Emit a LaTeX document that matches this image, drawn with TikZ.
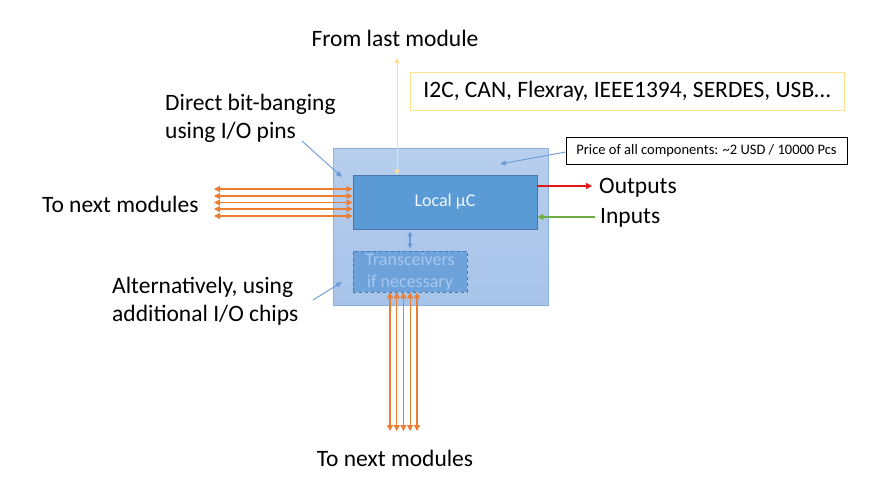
\documentclass[tikz,border=0pt]{standalone}
\usepackage{fontspec}
\setmainfont{Carlito}
\usetikzlibrary{arrows.meta,calc}
\definecolor{outerfill}{HTML}{A6C3E9}
\definecolor{outerdraw}{HTML}{8DB0DC}
\definecolor{ucfill}{HTML}{5B9BD5}
\definecolor{ucdraw}{HTML}{4776B0}
\definecolor{trfill}{HTML}{6DA2DA}
\definecolor{trtext}{HTML}{A9C6EC}
\definecolor{orangeA}{HTML}{ED7D31}
\definecolor{redA}{HTML}{E01818}
\definecolor{greenA}{HTML}{70AD47}
\definecolor{yellowA}{HTML}{FFDF8C}
\definecolor{yellowB}{HTML}{FFE28A}
\definecolor{pointer}{HTML}{6A9BD3}
\tikzset{
  biglabel/.style={inner sep=0pt, font=\fontsize{23.5}{28}\selectfont, align=left},
  orangearrow/.style={draw=orangeA, line width=1.2pt, {Triangle[length=6pt,width=6pt]}-{Triangle[length=6pt,width=6pt]}},
  pointerarrow/.style={draw=pointer, line width=0.9pt, -{Triangle[length=6pt,width=5pt]}},
  boxbase/.style={rectangle, inner sep=0pt}
}
\begin{document}
\begin{tikzpicture}[x=1pt,y=-1pt]
\useasboundingbox[fill=white] (0,0) rectangle (893,483);
% boxes
\node[boxbase, top color=outerfill!80!white, bottom color=outerfill, draw=outerdraw, line width=0.8pt, minimum width=215pt, minimum height=157pt] (outer) at (440.5,226.5) {};
\node[boxbase, fill=ucfill, draw=ucdraw, line width=0.8pt, minimum width=184pt, minimum height=54pt, text=white!92!ucfill, font=\fontsize{18}{20}\selectfont] (uc) at (445,202) {Local µC};
\node[boxbase, fill=trfill, draw=ucdraw, dashed, line width=0.7pt, minimum width=114pt, minimum height=41pt, text=trtext, align=center, font=\fontsize{18}{22}\selectfont] (trans) at (410,271.5) {Transceivers\\if necessary};
\node[boxbase, draw=yellowB, line width=1pt, minimum width=434pt, minimum height=38pt, font=\fontsize{23.5}{26}\selectfont] (bus) at (627,91) {I2C, CAN, Flexray, IEEE1394, SERDES, USB…};
\node[boxbase, draw=black, line width=0.7pt, minimum width=281pt, minimum height=27pt, font=\fontsize{14.5}{16}\selectfont] (price) at (706.5,150.5) {Price of all components: \textasciitilde2 USD / 10000 Pcs};
% labels
\node[biglabel] (fromlast) at (395,38) {From last module};
\node[biglabel, anchor=west] (bitbang) at (165,118) {Direct bit-banging\\using I/O pins};
\node[biglabel, anchor=west] (altern) at (112,301) {Alternatively, using\\additional I/O chips};
\node[biglabel, anchor=west] (nextleft) at (42,204) {To next modules};
\node[biglabel] (nextbottom) at (395,458) {To next modules};
\node[biglabel, anchor=west] (outputs) at (599,188) {Outputs};
\node[biglabel, anchor=west] (inputs) at (600,218) {Inputs};
% coordinates
\coordinate (yl) at (397,58);
\coordinate (bbstart) at (302,141);
\coordinate (bbend) at (342,177);
\coordinate (alstart) at (313,300);
\coordinate (alend) at (342,282);
\coordinate (prend) at (500,164);
% yellow arrow
\draw[draw=yellowA, line width=1pt, {Triangle[length=5pt,width=5pt]}-{Triangle[length=5pt,width=5pt]}] (yl) -- (yl |- uc.north);
% horizontal orange arrows
\foreach \i/\y in {1/189,2/196,3/202.5,4/209,5/216} {
  \coordinate (hl\i) at (214,\y);
  \draw[orangearrow] (hl\i) -- (hl\i -| uc.west);
}
% vertical orange arrows
\foreach \i/\x in {1/390,2/396.7,3/403.4,4/410.1,5/417} {
  \coordinate (vb\i) at (\x,431);
  \draw[orangearrow] (vb\i |- trans.south) -- (vb\i);
}
% blue double arrow
\draw[draw=pointer, line width=1.1pt, {Triangle[length=5pt,width=5pt]}-{Triangle[length=5pt,width=5pt]}, shorten <=2pt, shorten >=2pt] (uc.south -| trans.north) -- (trans.north);
% pointers
\draw[pointerarrow] (bbstart) -- (bbend);
\draw[pointerarrow] (alstart) -- (alend);
\draw[pointerarrow] ($(price.west)+(0,1.5)$) -- (prend);
% outputs / inputs
\draw[draw=redA, line width=1.4pt, -{Triangle[length=6pt,width=6pt]}] (uc.east |- 0,186) -- (592,186) coordinate (outtip);
\draw[draw=greenA, line width=1.4pt, -{Triangle[length=6pt,width=6pt]}] (595,217) coordinate (instart) -- (instart -| uc.east);
\end{tikzpicture}
\end{document}
